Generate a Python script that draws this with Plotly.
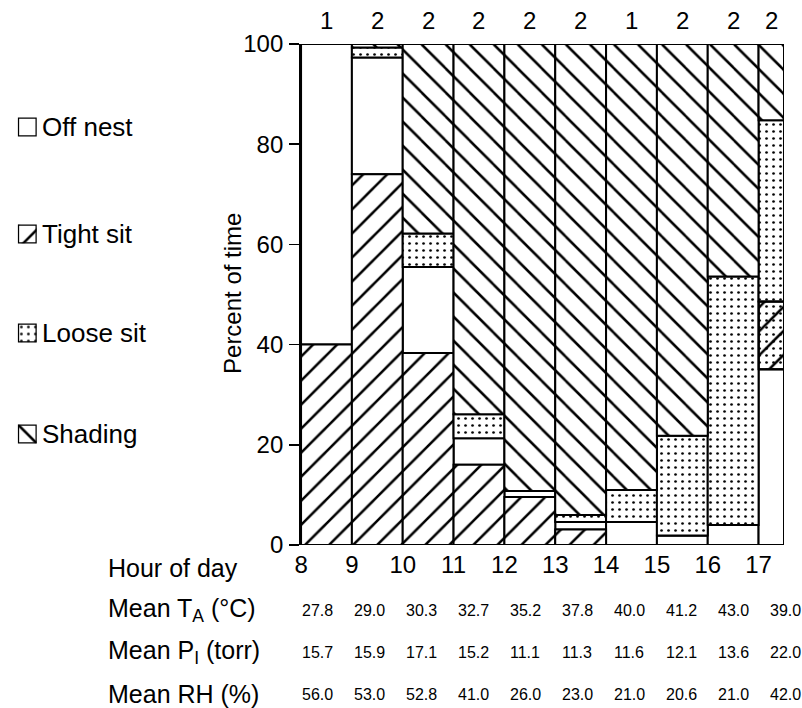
import plotly.graph_objects as go
import numpy as np

# ---------------- data ----------------
hours = [8, 9, 10, 11, 12, 13, 14, 15, 16, 17]
hour_span = [1, 1, 1, 1, 1, 1, 1, 1, 1, 0.5]          # length of each observation block (h)
n_days = ["1", "2", "2", "2", "2", "2", "1", "2", "2", "2"]

off_nest  = [60.0, 23.3, 17.2, 5.3, 1.2, 1.5, 4.6, 1.9, 4.0, 35.1]
tight_sit = [40.0, 74.0, 38.3, 16.0, 9.6, 3.1, 0.0, 0.0, 0.0, 13.5]
loose_sit = [0.0, 2.0, 6.7, 4.8, 0.0, 1.4, 6.4, 19.9, 49.6, 36.2]
shading   = [0.0, 0.7, 37.8, 73.9, 89.2, 94.0, 89.0, 78.2, 46.4, 15.2]

mean_ta = ["27.8", "29.0", "30.3", "32.7", "35.2", "37.8", "40.0", "41.2", "43.0", "39.0"]
mean_pi = ["15.7", "15.9", "17.1", "15.2", "11.1", "11.3", "11.6", "12.1", "13.6", "22.0"]
mean_rh = ["56.0", "53.0", "52.8", "41.0", "26.0", "23.0", "21.0", "20.6", "21.0", "42.0"]

yticks = [0, 20, 40, 60, 80, 100]

# ---------------- styling / layout helpers ----------------
W, H = 802, 708
ML, MR, MT, MB = 0, 18, 44, 163
PW = W - ML - MR
PH = H - MT - MB
AX_LEFT = 296.7

def X(p):  # pixel -> paper x
    return (p - ML) / PW

def Y(p):  # pixel -> paper y
    return (H - MB - p) / PH

FONT = "Liberation Sans, Arial, sans-serif"

def pat(shape, size, solidity, bg="white"):
    return dict(shape=shape, size=size, solidity=solidity, fgcolor="black",
                fgopacity=1, bgcolor=bg)

styles = {
    "Off nest":  dict(color="white"),
    "Tight sit": dict(color="white", pattern=pat("/", 17, 0.15)),
    "Loose sit": dict(color="white", pattern=pat(".", 7, 0.12)),
    "Shading":   dict(color="white", pattern=pat("\\", 17, 0.15)),
}
values = {"Off nest": off_nest, "Tight sit": tight_sit,
          "Loose sit": loose_sit, "Shading": shading}

# stacking order (bottom -> top): in the late hours off-nest time is drawn at the bottom
order_early = ["Tight sit", "Off nest", "Loose sit", "Shading"]
order_late = ["Off nest", "Tight sit", "Loose sit", "Shading"]

n = len(hours)
bases = {k: np.zeros(n) for k in values}
for i, h in enumerate(hours):
    acc = 0.0
    for k in (order_late if h >= 14 else order_early):
        bases[k][i] = acc
        acc += values[k][i]

xc = [h + s / 2 for h, s in zip(hours, hour_span)]

fig = go.Figure()
for k in ["Off nest", "Tight sit", "Loose sit", "Shading"]:
    fig.add_trace(go.Bar(
        x=xc, y=values[k], base=bases[k], width=hour_span,
        marker=dict(line=dict(color="black", width=2), **styles[k]),
        name=k, showlegend=False, hoverinfo="skip",
    ))

# last block: tight-sit segment also stippled
mixed = [False] * (n - 1) + [True]
fig.add_trace(go.Bar(
    x=[x for x, m in zip(xc, mixed) if m],
    y=[v for v, m in zip(tight_sit, mixed) if m],
    base=[b for b, m in zip(bases["Tight sit"], mixed) if m],
    width=[s for s, m in zip(hour_span, mixed) if m],
    marker=dict(color="rgba(0,0,0,0)", line=dict(color="black", width=2),
                pattern=dict(shape=".", size=7, solidity=0.12, fgcolor="black",
                             fgopacity=1, bgcolor="rgba(0,0,0,0)", fillmode="overlay")),
    showlegend=False, hoverinfo="skip",
))

# ---------------- legend (drawn as small boxes) ----------------
legend_y = {"Off nest": 127, "Tight sit": 234, "Loose sit": 333, "Shading": 434}
box = 19
for j, k in enumerate(["Off nest", "Tight sit", "Loose sit", "Shading"], start=2):
    cy = legend_y[k]
    fig.add_trace(go.Bar(
        x=[0.5], y=[1], width=[1], xaxis=f"x{j}", yaxis=f"y{j}",
        marker=dict(line=dict(color="black", width=2.5), **styles[k]),
        showlegend=False, hoverinfo="skip",
    ))
    fig.update_layout(**{
        f"xaxis{j}": dict(domain=[X(11), X(11 + box)], range=[0, 1], visible=False,
                          fixedrange=True),
        f"yaxis{j}": dict(domain=[Y(cy + box / 2), Y(cy - box / 2)], range=[0, 1],
                          visible=False, fixedrange=True, anchor=f"x{j}"),
    })
    fig.add_annotation(x=X(33), y=Y(cy), xref="paper", yref="paper", text=k,
                       showarrow=False, xanchor="left", yanchor="middle",
                       font=dict(size=26, family=FONT, color="black"))

# ---------------- axes ----------------
fig.update_layout(
    width=W, height=H,
    margin=dict(l=ML, r=MR, t=MT, b=MB, pad=0),
    paper_bgcolor="white", plot_bgcolor="white",
    barmode="overlay", bargap=0,
    font=dict(family=FONT, color="black"),
    xaxis=dict(domain=[X(AX_LEFT), 1], range=[8, 17.5], tickmode="array",
               tickvals=hours, ticktext=[str(h) for h in hours], ticks="",
               tickfont=dict(size=24, family=FONT), showgrid=False, zeroline=False,
               showline=False, ticklabelstandoff=3, fixedrange=True),
    yaxis=dict(range=[0, 100], tickmode="array", tickvals=yticks, ticks="outside",
               ticklen=10, tickwidth=1.5, tickcolor="black",
               tickfont=dict(size=24, family=FONT), showgrid=False, zeroline=False,
               showline=True, linecolor="black", linewidth=2, fixedrange=True,
               ticklabelstandoff=1),
)

# y-axis title
fig.add_annotation(x=X(227), y=Y(293), xref="paper", yref="paper", text="Percent of time",
                   textangle=-90, showarrow=False, xanchor="center", yanchor="middle",
                   font=dict(size=24, family=FONT))

# counts above the bars
for x, c in zip(xc, n_days):
    fig.add_annotation(x=x, y=Y(21), xref="x", yref="paper", text=c, showarrow=False,
                       font=dict(size=24, family=FONT), xanchor="center", yanchor="middle")

# table below the chart
rows = [
    ("Hour of day", None, 568),
    ("Mean T<sub>A</sub> (°C)", mean_ta, 610),
    ("Mean P<sub>I</sub> (torr)", mean_pi, 652),
    ("Mean RH (%)", mean_rh, 694),
]
first_c, step_c = 313, 52.5
for label, vals, py in rows:
    fig.add_annotation(x=X(100), y=Y(py), xref="paper", yref="paper", text=label,
                       showarrow=False, xanchor="left", yanchor="middle",
                       font=dict(size=25, family=FONT))
    if vals is None:
        continue
    for i, v in enumerate(vals):
        fig.add_annotation(x=X(first_c + i * step_c), y=Y(py), xref="paper", yref="paper",
                           text=v, showarrow=False, xanchor="center", yanchor="middle",
                           font=dict(size=16, family=FONT))

fig.write_html("out.html",
               config={"displayModeBar": False, "staticPlot": True},
               post_script="document.body.style.margin='0';"
                           "document.body.style.overflow='hidden';")
